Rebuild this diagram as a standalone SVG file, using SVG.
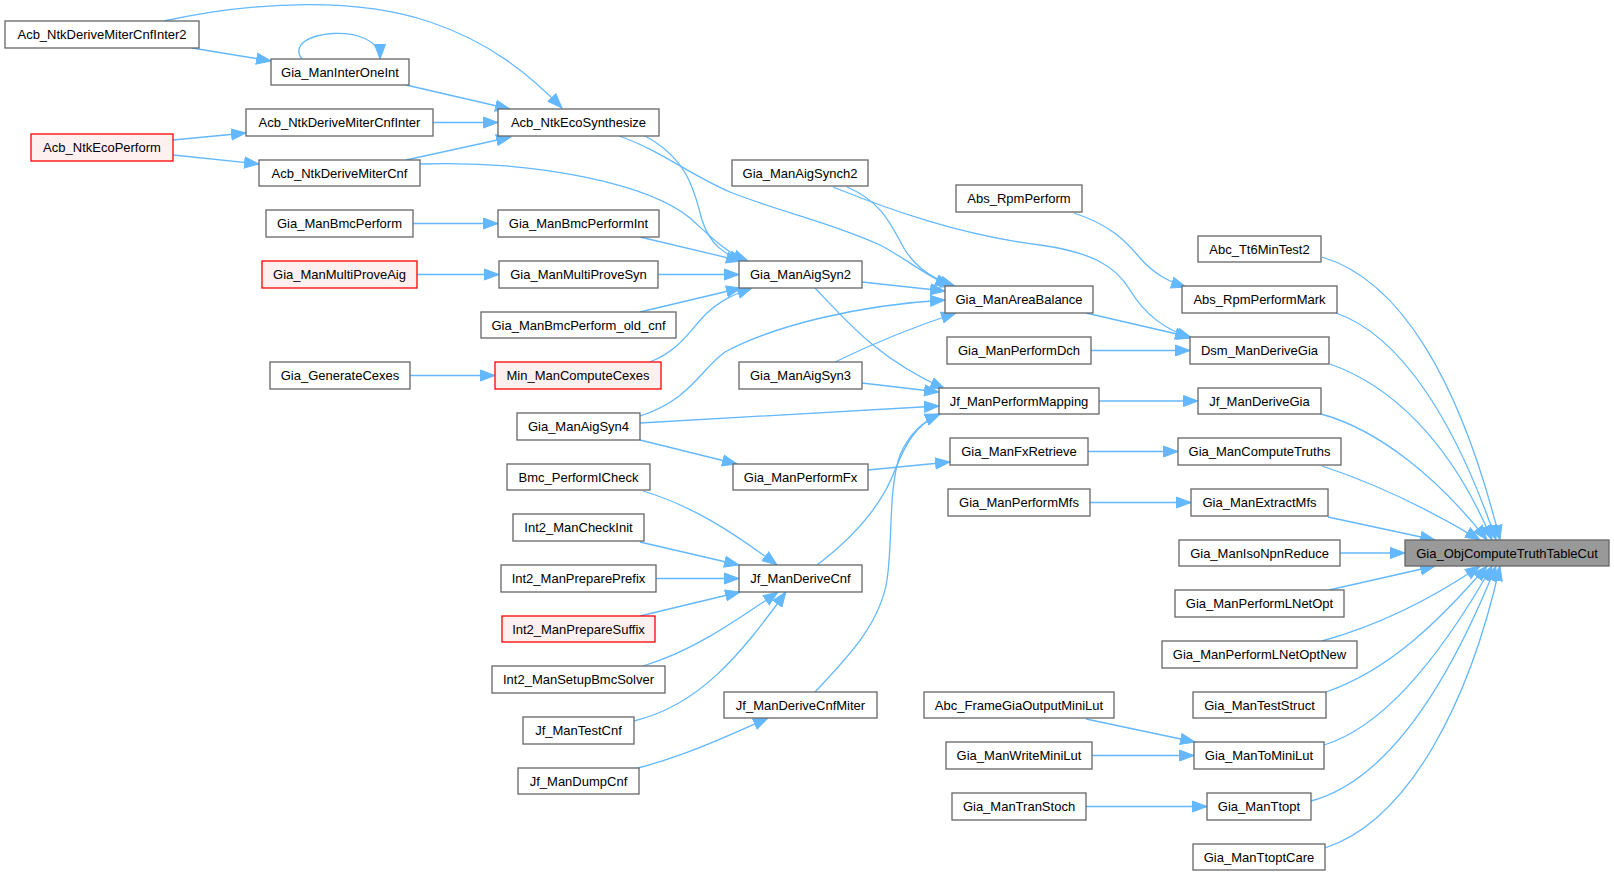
<svg xmlns="http://www.w3.org/2000/svg" width="1614" height="876" viewBox="0 0 1614 876">
<style>
.node rect{fill:#ffffff;stroke:#666666;stroke-width:1.3}
.node.red rect{fill:#fff0f0;stroke:#ff0000}
.node.main rect{fill:#999999;stroke:#666666}
.node text{font-family:"Liberation Sans",Arial,sans-serif;font-size:13px;fill:#000000;text-anchor:middle}
.edges path{fill:none;stroke:#63b8ff;stroke-width:1.3;marker-end:url(#arr)}
</style>
<defs>
<marker id="arr" markerWidth="18" markerHeight="14" refX="15" refY="6.5" orient="auto" markerUnits="userSpaceOnUse">
<path d="M0.5,1 L15,6.5 L0.5,12 z" fill="#63b8ff" stroke="#63b8ff" stroke-width="1"/>
</marker>
</defs>
<rect x="0" y="0" width="1614" height="876" fill="#ffffff"/>
<g class="edges">
<path d="M164,21 C260,0 360,-2 430,22 C490,42 530,75 562,108"/>
<path d="M192,48 L271,61"/>
<path d="M302,59 C280,30 380,20 380,59"/>
<path d="M406,85 L510,109"/>
<path d="M433,122.5 L498,122.5"/>
<path d="M173,140 L246,133"/>
<path d="M173,155 L259,164"/>
<path d="M406,160 L511,137"/>
<path d="M420,164 C540,160 650,185 690,218 C710,236 725,252 748,261"/>
<path d="M645,136 C690,160 695,195 702,220 C710,245 725,255 744,261"/>
<path d="M619,136 C660,150 690,175 730,192 C780,212 830,222 880,245 C905,258 925,275 950,286"/>
<path d="M413,223.5 L498,223.5"/>
<path d="M417,274.5 L499,274.5"/>
<path d="M640,237 L741,261"/>
<path d="M658,274.5 L739,274.5"/>
<path d="M640,312 L741,288"/>
<path d="M650,362 C680,350 690,330 705,315 C720,300 735,294 752,288"/>
<path d="M409.5,375.5 L495,375.5"/>
<path d="M862,282 L945,291"/>
<path d="M815,288 C850,325 880,360 945,389"/>
<path d="M847,187 C885,203 893,230 905,250 C918,270 935,280 955,286"/>
<path d="M833,187 C890,210 960,235 1040,245 C1090,252 1115,265 1130,290 C1145,315 1165,330 1192,338"/>
<path d="M1074,213 C1110,225 1125,240 1140,258 C1155,275 1170,282 1186,287"/>
<path d="M1086,313 L1190,337"/>
<path d="M1091,350.5 L1190,350.5"/>
<path d="M835,362 C870,345 910,328 956,313"/>
<path d="M862,383 L939,392"/>
<path d="M640,416 C690,400 700,370 725,352 C775,325 860,305 945,300"/>
<path d="M640,423 L939,406"/>
<path d="M640,440 L737,464"/>
<path d="M868,470 L950,462"/>
<path d="M1099,401 L1198,401"/>
<path d="M1088,451.5 L1178,451.5"/>
<path d="M1090,502.5 L1191,502.5"/>
<path d="M643,491 C690,505 730,530 777,565"/>
<path d="M640,542 L739,565"/>
<path d="M656,578.5 L739,578.5"/>
<path d="M640,616 L740,592"/>
<path d="M643,666 C690,652 730,625 778,592"/>
<path d="M634,721 C700,705 740,655 786,592"/>
<path d="M817,565 C850,540 880,510 895,470 C905,445 915,425 940,414"/>
<path d="M815,692 C845,660 880,625 887,580 C893,540 888,490 900,455 C910,432 925,420 940,414"/>
<path d="M638,768 C680,757 720,740 768,718"/>
<path d="M1086,719 L1195,742"/>
<path d="M1092,755.5 L1194,755.5"/>
<path d="M1086,806.5 L1207,806.5"/>
<path d="M1322,257 C1400,280 1460,380 1500,540"/>
<path d="M1336,313 C1400,335 1455,420 1496,540"/>
<path d="M1330,364 C1390,385 1450,440 1492,540"/>
<path d="M1321,414 C1380,430 1440,480 1487,540"/>
<path d="M1322,466 C1380,485 1430,510 1480,540"/>
<path d="M1328,517 L1435,540"/>
<path d="M1340,553 L1405,553"/>
<path d="M1329,590 L1435,566"/>
<path d="M1322,641 C1380,625 1430,600 1480,566"/>
<path d="M1326,692 C1390,670 1440,620 1487,566"/>
<path d="M1324,745 C1390,725 1450,640 1492,566"/>
<path d="M1311,801 C1390,780 1450,680 1496,566"/>
<path d="M1325,848 C1410,820 1470,700 1500,566"/>
</g>
<g id="n_Acb_NtkDeriveMiterCnfInter2" class="node"><rect x="5" y="21" width="194" height="27"/><text x="102" y="39.1">Acb_NtkDeriveMiterCnfInter2</text></g>
<g id="n_Gia_ManInterOneInt" class="node"><rect x="271" y="59" width="138" height="26"/><text x="340" y="76.6">Gia_ManInterOneInt</text></g>
<g id="n_Acb_NtkDeriveMiterCnfInter" class="node"><rect x="246" y="109" width="187" height="27"/><text x="339.5" y="127.1">Acb_NtkDeriveMiterCnfInter</text></g>
<g id="n_Acb_NtkEcoPerform" class="node red"><rect x="31" y="134" width="142" height="27"/><text x="102" y="152.1">Acb_NtkEcoPerform</text></g>
<g id="n_Acb_NtkDeriveMiterCnf" class="node"><rect x="259" y="160" width="161" height="26"/><text x="339.5" y="177.6">Acb_NtkDeriveMiterCnf</text></g>
<g id="n_Acb_NtkEcoSynthesize" class="node"><rect x="498" y="109" width="161" height="27"/><text x="578.5" y="127.1">Acb_NtkEcoSynthesize</text></g>
<g id="n_Gia_ManBmcPerform" class="node"><rect x="266" y="210" width="147" height="27"/><text x="339.5" y="228.1">Gia_ManBmcPerform</text></g>
<g id="n_Gia_ManBmcPerformInt" class="node"><rect x="498" y="210" width="161" height="27"/><text x="578.5" y="228.1">Gia_ManBmcPerformInt</text></g>
<g id="n_Gia_ManMultiProveAig" class="node red"><rect x="262" y="261" width="155" height="27"/><text x="339.5" y="279.1">Gia_ManMultiProveAig</text></g>
<g id="n_Gia_ManMultiProveSyn" class="node"><rect x="499" y="261" width="159" height="27"/><text x="578.5" y="279.1">Gia_ManMultiProveSyn</text></g>
<g id="n_Gia_ManAigSynch2" class="node"><rect x="732" y="160" width="136" height="26"/><text x="800" y="177.6">Gia_ManAigSynch2</text></g>
<g id="n_Abs_RpmPerform" class="node"><rect x="956" y="185" width="126" height="27"/><text x="1019" y="203.1">Abs_RpmPerform</text></g>
<g id="n_Gia_ManAigSyn2" class="node"><rect x="739" y="261" width="123" height="27"/><text x="800.5" y="279.1">Gia_ManAigSyn2</text></g>
<g id="n_Gia_ManAreaBalance" class="node"><rect x="945" y="286" width="148" height="27"/><text x="1019" y="304.1">Gia_ManAreaBalance</text></g>
<g id="n_Abc_Tt6MinTest2" class="node"><rect x="1198" y="236" width="123" height="26"/><text x="1259.5" y="253.6">Abc_Tt6MinTest2</text></g>
<g id="n_Abs_RpmPerformMark" class="node"><rect x="1182" y="286" width="155" height="27"/><text x="1259.5" y="304.1">Abs_RpmPerformMark</text></g>
<g id="n_Gia_ManBmcPerform_old_cnf" class="node"><rect x="481" y="312" width="195" height="26"/><text x="578.5" y="329.6">Gia_ManBmcPerform_old_cnf</text></g>
<g id="n_Gia_GenerateCexes" class="node"><rect x="270" y="362" width="140" height="27"/><text x="340" y="380.1">Gia_GenerateCexes</text></g>
<g id="n_Min_ManComputeCexes" class="node red"><rect x="495" y="362" width="166" height="27"/><text x="578" y="380.1">Min_ManComputeCexes</text></g>
<g id="n_Gia_ManAigSyn4" class="node"><rect x="517" y="413" width="123" height="27"/><text x="578.5" y="431.1">Gia_ManAigSyn4</text></g>
<g id="n_Gia_ManPerformDch" class="node"><rect x="947" y="337" width="144" height="27"/><text x="1019" y="355.1">Gia_ManPerformDch</text></g>
<g id="n_Gia_ManAigSyn3" class="node"><rect x="739" y="362" width="123" height="27"/><text x="800.5" y="380.1">Gia_ManAigSyn3</text></g>
<g id="n_Jf_ManPerformMapping" class="node"><rect x="939" y="388" width="160" height="26"/><text x="1019" y="405.6">Jf_ManPerformMapping</text></g>
<g id="n_Dsm_ManDeriveGia" class="node"><rect x="1190" y="337" width="139" height="27"/><text x="1259.5" y="355.1">Dsm_ManDeriveGia</text></g>
<g id="n_Jf_ManDeriveGia" class="node"><rect x="1198" y="388" width="123" height="26"/><text x="1259.5" y="405.6">Jf_ManDeriveGia</text></g>
<g id="n_Gia_ManFxRetrieve" class="node"><rect x="950" y="438" width="138" height="27"/><text x="1019" y="456.1">Gia_ManFxRetrieve</text></g>
<g id="n_Gia_ManComputeTruths" class="node"><rect x="1178" y="438" width="163" height="27"/><text x="1259.5" y="456.1">Gia_ManComputeTruths</text></g>
<g id="n_Gia_ManPerformFx" class="node"><rect x="733" y="464" width="135" height="26"/><text x="800.5" y="481.6">Gia_ManPerformFx</text></g>
<g id="n_Gia_ManPerformMfs" class="node"><rect x="948" y="489" width="142" height="27"/><text x="1019" y="507.1">Gia_ManPerformMfs</text></g>
<g id="n_Gia_ManExtractMfs" class="node"><rect x="1191" y="489" width="137" height="27"/><text x="1259.5" y="507.1">Gia_ManExtractMfs</text></g>
<g id="n_Bmc_PerformICheck" class="node"><rect x="507" y="464" width="143" height="26"/><text x="578.5" y="481.6">Bmc_PerformICheck</text></g>
<g id="n_Int2_ManCheckInit" class="node"><rect x="513" y="514" width="131" height="27"/><text x="578.5" y="532.1">Int2_ManCheckInit</text></g>
<g id="n_Int2_ManPreparePrefix" class="node"><rect x="501" y="565" width="155" height="27"/><text x="578.5" y="583.1">Int2_ManPreparePrefix</text></g>
<g id="n_Jf_ManDeriveCnf" class="node"><rect x="739" y="565" width="123" height="27"/><text x="800.5" y="583.1">Jf_ManDeriveCnf</text></g>
<g id="n_Gia_ManIsoNpnReduce" class="node"><rect x="1179" y="540" width="161" height="26"/><text x="1259.5" y="557.6">Gia_ManIsoNpnReduce</text></g>
<g id="n_Gia_ObjComputeTruthTableCut" class="node main"><rect x="1405" y="540" width="204" height="26"/><text x="1507" y="557.6">Gia_ObjComputeTruthTableCut</text></g>
<g id="n_Int2_ManPrepareSuffix" class="node red"><rect x="502" y="616" width="153" height="26"/><text x="578.5" y="633.6">Int2_ManPrepareSuffix</text></g>
<g id="n_Gia_ManPerformLNetOpt" class="node"><rect x="1175" y="590" width="169" height="27"/><text x="1259.5" y="608.1">Gia_ManPerformLNetOpt</text></g>
<g id="n_Int2_ManSetupBmcSolver" class="node"><rect x="492" y="666" width="173" height="27"/><text x="578.5" y="684.1">Int2_ManSetupBmcSolver</text></g>
<g id="n_Gia_ManPerformLNetOptNew" class="node"><rect x="1162" y="641" width="195" height="27"/><text x="1259.5" y="659.1">Gia_ManPerformLNetOptNew</text></g>
<g id="n_Jf_ManDeriveCnfMiter" class="node"><rect x="724" y="692" width="153" height="26"/><text x="800.5" y="709.6">Jf_ManDeriveCnfMiter</text></g>
<g id="n_Abc_FrameGiaOutputMiniLut" class="node"><rect x="924" y="692" width="190" height="26"/><text x="1019" y="709.6">Abc_FrameGiaOutputMiniLut</text></g>
<g id="n_Gia_ManTestStruct" class="node"><rect x="1193" y="692" width="133" height="26"/><text x="1259.5" y="709.6">Gia_ManTestStruct</text></g>
<g id="n_Jf_ManTestCnf" class="node"><rect x="523" y="717" width="111" height="27"/><text x="578.5" y="735.1">Jf_ManTestCnf</text></g>
<g id="n_Gia_ManWriteMiniLut" class="node"><rect x="946" y="742" width="146" height="27"/><text x="1019" y="760.1">Gia_ManWriteMiniLut</text></g>
<g id="n_Gia_ManToMiniLut" class="node"><rect x="1194" y="742" width="130" height="27"/><text x="1259" y="760.1">Gia_ManToMiniLut</text></g>
<g id="n_Jf_ManDumpCnf" class="node"><rect x="518" y="768" width="121" height="26"/><text x="578.5" y="785.6">Jf_ManDumpCnf</text></g>
<g id="n_Gia_ManTranStoch" class="node"><rect x="952" y="793" width="134" height="27"/><text x="1019" y="811.1">Gia_ManTranStoch</text></g>
<g id="n_Gia_ManTtopt" class="node"><rect x="1207" y="793" width="104" height="27"/><text x="1259" y="811.1">Gia_ManTtopt</text></g>
<g id="n_Gia_ManTtoptCare" class="node"><rect x="1193" y="844" width="132" height="26"/><text x="1259" y="861.6">Gia_ManTtoptCare</text></g>
</svg>
